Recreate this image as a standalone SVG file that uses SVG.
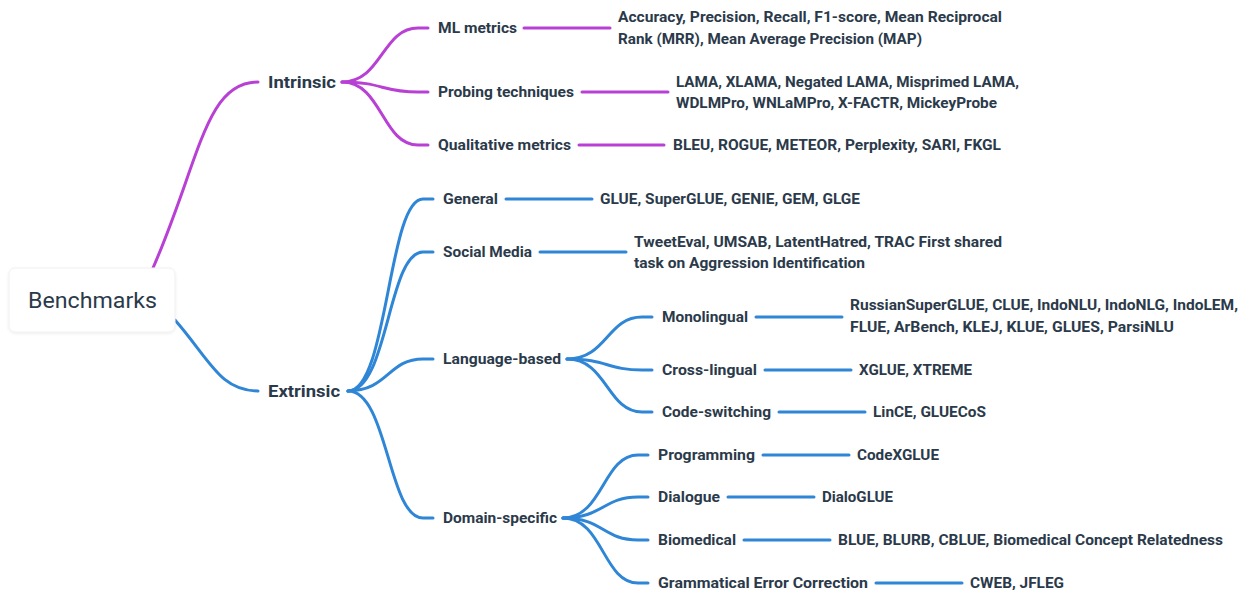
<svg xmlns="http://www.w3.org/2000/svg" width="1241" height="590" viewBox="0 0 1241 590">
<defs>
<style>
.p{fill:none;stroke:#b940d4;stroke-width:3;stroke-linecap:round}
.b{fill:none;stroke:#2f86d6;stroke-width:3;stroke-linecap:round}
text{font-family:Roboto,"Noto Sans","Liberation Sans",sans-serif;fill:#2b3a4a;font-weight:700;font-size:14.5px}
.l1{font-size:17px}
.root{font-weight:400;font-size:22px}
</style>
<filter id="sh" x="-10%" y="-20%" width="120%" height="140%"><feDropShadow dx="0" dy="1" stdDeviation="1.5" flood-color="#000" flood-opacity="0.08"/></filter>
</defs>
<rect width="1241" height="590" fill="#fff"/>
<g id="connectors">
<path class="p" d="M153,268 C200,160 205,82 258,82"/>
<path class="b" d="M175,320 C210,360 220,391 258,391"/>
<path class="p" d="M342,82 C382,82 382,28 418,28 L428,28"/>
<path class="p" d="M342,82 C382,82 382,92 418,92 L428,92"/>
<path class="p" d="M342,82 C382,82 382,145 418,145 L428,145"/>
<path class="p" d="M524,28 L610,28"/>
<path class="p" d="M582,92 L668,92"/>
<path class="p" d="M579,145 L664,145"/>
<path class="b" d="M348,391 C388,391 388,199 423,199 L433,199"/>
<path class="b" d="M348,391 C388,391 388,252 423,252 L433,252"/>
<path class="b" d="M348,391 C388,391 388,359 423,359 L433,359"/>
<path class="b" d="M348,391 C388,391 388,518 423,518 L433,518"/>
<path class="b" d="M506,199 L592,199"/>
<path class="b" d="M540,252 L626,252"/>
<path class="b" d="M567,359 C607,359 607,317 642,317 L652,317"/>
<path class="b" d="M567,359 C607,359 607,370 642,370 L652,370"/>
<path class="b" d="M567,359 C607,359 607,412 642,412 L652,412"/>
<path class="b" d="M756,317 L842,317"/>
<path class="b" d="M765,370 L851,370"/>
<path class="b" d="M779,412 L865,412"/>
<path class="b" d="M563,518 C603,518 603,455 638,455 L648,455"/>
<path class="b" d="M563,518 C603,518 603,497 638,497 L648,497"/>
<path class="b" d="M563,518 C603,518 603,540 638,540 L648,540"/>
<path class="b" d="M563,518 C603,518 603,583 638,583 L648,583"/>
<path class="b" d="M763,455 L849,455"/>
<path class="b" d="M728,497 L814,497"/>
<path class="b" d="M744,540 L830,540"/>
<path class="b" d="M876,583 L962,583"/>
</g>
<g id="benchmarks">
<rect x="9" y="268" width="166" height="64" rx="6" fill="#fff" stroke="#f0f0f0" filter="url(#sh)"/>
<text class="root" x="28" y="308" textLength="129" lengthAdjust="spacingAndGlyphs">Benchmarks</text>
</g>
<g id="intrinsic"><text class="l1" x="268" y="88" textLength="68" lengthAdjust="spacingAndGlyphs">Intrinsic</text></g>
<g id="extrinsic"><text class="l1" x="268" y="397" textLength="72" lengthAdjust="spacingAndGlyphs">Extrinsic</text></g>
<g id="ml-metrics"><text x="438" y="33" textLength="79" lengthAdjust="spacingAndGlyphs">ML metrics</text></g>
<g id="ml-metrics-leaf"><text x="618" y="22" textLength="384" lengthAdjust="spacingAndGlyphs">Accuracy, Precision, Recall, F1-score, Mean Reciprocal</text><text x="618" y="44" textLength="304" lengthAdjust="spacingAndGlyphs">Rank (MRR), Mean Average Precision (MAP)</text></g>
<g id="probing"><text x="438" y="97" textLength="136" lengthAdjust="spacingAndGlyphs">Probing techniques</text></g>
<g id="probing-leaf"><text x="676" y="87" textLength="343" lengthAdjust="spacingAndGlyphs">LAMA, XLAMA, Negated LAMA, Misprimed LAMA,</text><text x="676" y="108" textLength="321" lengthAdjust="spacingAndGlyphs">WDLMPro, WNLaMPro, X-FACTR, MickeyProbe</text></g>
<g id="qualitative"><text x="438" y="150" textLength="133" lengthAdjust="spacingAndGlyphs">Qualitative metrics</text></g>
<g id="qualitative-leaf"><text x="673" y="150" textLength="328" lengthAdjust="spacingAndGlyphs">BLEU, ROGUE, METEOR, Perplexity, SARI, FKGL</text></g>
<g id="general"><text x="443" y="204" textLength="55" lengthAdjust="spacingAndGlyphs">General</text></g>
<g id="general-leaf"><text x="600" y="204" textLength="260" lengthAdjust="spacingAndGlyphs">GLUE, SuperGLUE, GENIE, GEM, GLGE</text></g>
<g id="social"><text x="443" y="257" textLength="89" lengthAdjust="spacingAndGlyphs">Social Media</text></g>
<g id="social-leaf"><text x="634" y="247" textLength="368" lengthAdjust="spacingAndGlyphs">TweetEval, UMSAB, LatentHatred, TRAC First shared</text><text x="634" y="268" textLength="231" lengthAdjust="spacingAndGlyphs">task on Aggression Identification</text></g>
<g id="language"><text x="443" y="364" textLength="118" lengthAdjust="spacingAndGlyphs">Language-based</text></g>
<g id="monolingual"><text x="662" y="322" textLength="86" lengthAdjust="spacingAndGlyphs">Monolingual</text></g>
<g id="monolingual-leaf"><text x="850" y="310" textLength="388" lengthAdjust="spacingAndGlyphs">RussianSuperGLUE, CLUE, IndoNLU, IndoNLG, IndoLEM,</text><text x="850" y="332" textLength="324" lengthAdjust="spacingAndGlyphs">FLUE, ArBench, KLEJ, KLUE, GLUES, ParsiNLU</text></g>
<g id="crosslingual"><text x="662" y="375" textLength="95" lengthAdjust="spacingAndGlyphs">Cross-lingual</text></g>
<g id="crosslingual-leaf"><text x="859" y="375" textLength="113" lengthAdjust="spacingAndGlyphs">XGLUE, XTREME</text></g>
<g id="codeswitching"><text x="662" y="417" textLength="109" lengthAdjust="spacingAndGlyphs">Code-switching</text></g>
<g id="codeswitching-leaf"><text x="873" y="417" textLength="113" lengthAdjust="spacingAndGlyphs">LinCE, GLUECoS</text></g>
<g id="domain"><text x="443" y="523" textLength="114" lengthAdjust="spacingAndGlyphs">Domain-specific</text></g>
<g id="programming"><text x="658" y="460" textLength="97" lengthAdjust="spacingAndGlyphs">Programming</text></g>
<g id="programming-leaf"><text x="857" y="460" textLength="82" lengthAdjust="spacingAndGlyphs">CodeXGLUE</text></g>
<g id="dialogue"><text x="658" y="502" textLength="62" lengthAdjust="spacingAndGlyphs">Dialogue</text></g>
<g id="dialogue-leaf"><text x="822" y="502" textLength="71" lengthAdjust="spacingAndGlyphs">DialoGLUE</text></g>
<g id="biomedical"><text x="658" y="545" textLength="78" lengthAdjust="spacingAndGlyphs">Biomedical</text></g>
<g id="biomedical-leaf"><text x="838" y="545" textLength="385" lengthAdjust="spacingAndGlyphs">BLUE, BLURB, CBLUE, Biomedical Concept Relatedness</text></g>
<g id="gec"><text x="658" y="588" textLength="210" lengthAdjust="spacingAndGlyphs">Grammatical Error Correction</text></g>
<g id="gec-leaf"><text x="970" y="588" textLength="94" lengthAdjust="spacingAndGlyphs">CWEB, JFLEG</text></g>
</svg>
